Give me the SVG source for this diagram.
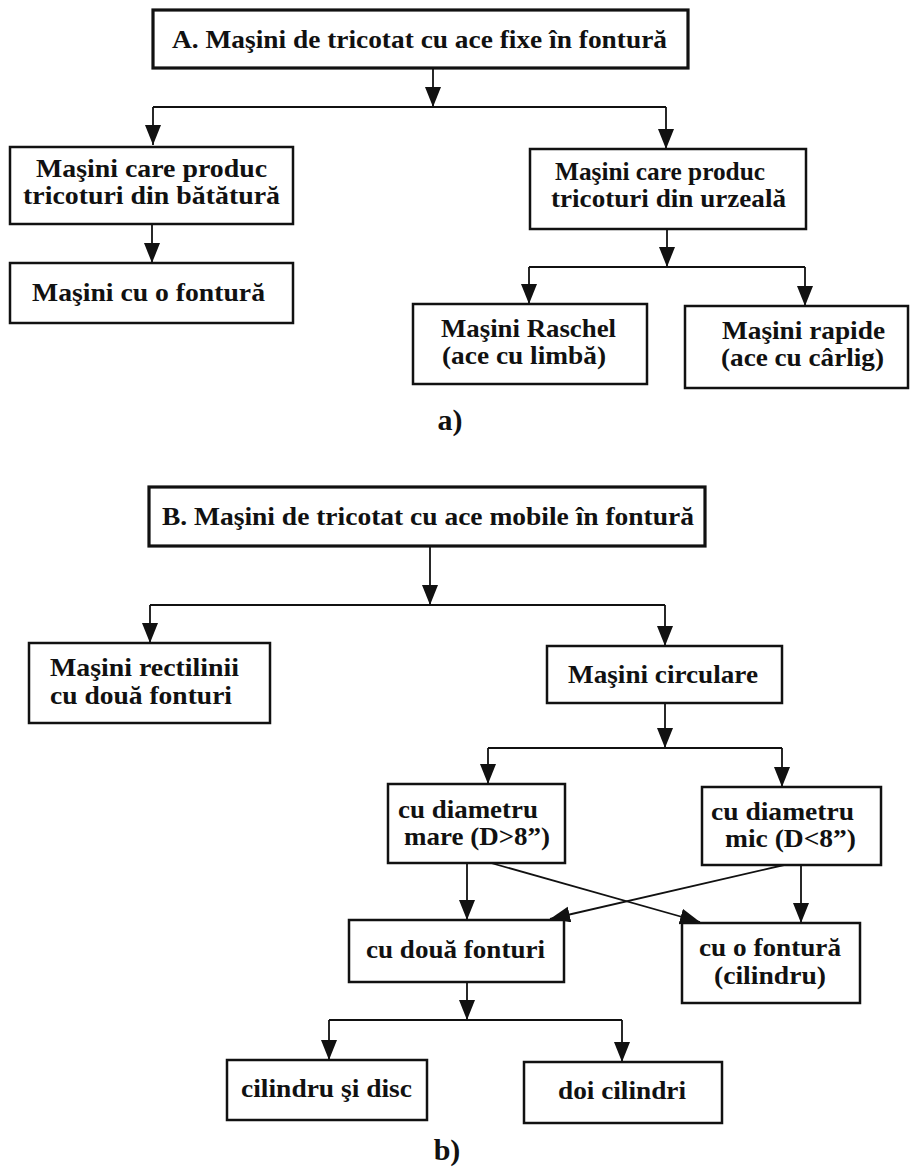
<svg xmlns="http://www.w3.org/2000/svg" width="914" height="1167" viewBox="0 0 914 1167">
<defs>
<marker id="ah" markerUnits="userSpaceOnUse" markerWidth="22" markerHeight="18" refX="20" refY="8" orient="auto">
<path d="M0,0 L20,8 L0,16 z" fill="#111"/>
</marker>
<style>
rect{fill:#fff;stroke:#111;stroke-width:2.5}
rect.main{stroke-width:3.2}
text{font-family:"Liberation Serif","Times New Roman",serif;font-weight:bold;font-size:25px;fill:#111}
.c path{fill:none;stroke:#111;stroke-width:1.8}
.c path.a{marker-end:url(#ah)}
</style>
</defs>
<rect x="0" y="0" width="914" height="1167" style="fill:#fff;stroke:none"/>
<g class="c" id="connectors">
<path class="a" d="M433,69 V107"/>
<path d="M153,107 H666"/>
<path class="a" d="M153,107 V145"/>
<path class="a" d="M666,107 V149"/>
<path class="a" d="M152,224 V263"/>
<path class="a" d="M667,229 V267"/>
<path d="M529,267 H805"/>
<path class="a" d="M529,267 V304"/>
<path class="a" d="M805,267 V306"/>
<path class="a" d="M430,546 V605"/>
<path d="M150,605 H665"/>
<path class="a" d="M150,605 V643"/>
<path class="a" d="M665,605 V646"/>
<path class="a" d="M665,703 V748"/>
<path d="M488,748 H782"/>
<path class="a" d="M488,748 V784"/>
<path class="a" d="M782,748 V787"/>
<path class="a" d="M467,863 V920"/>
<path class="a" d="M801,865 V923"/>
<path class="a" d="M491,863 L700,922"/>
<path class="a" d="M784,865 L550,919"/>
<path class="a" d="M467,982 V1020"/>
<path d="M329,1020 H622"/>
<path class="a" d="M329,1020 V1060"/>
<path class="a" d="M622,1020 V1062"/>
</g>
<g id="nA">
<rect class="main" x="153" y="10" width="535" height="58"/>
<text x="172" y="48" textLength="495" lengthAdjust="spacingAndGlyphs">A. Maşini de tricotat cu ace fixe în fontură</text>
</g>
<g id="nBatatura">
<rect x="10" y="147" width="283" height="77"/>
<text x="36" y="177" textLength="231" lengthAdjust="spacingAndGlyphs">Maşini care produc</text>
<text x="23" y="204" textLength="257" lengthAdjust="spacingAndGlyphs">tricoturi din bătătură</text>
</g>
<g id="nOFonturaA">
<rect x="10" y="263" width="283" height="60"/>
<text x="32" y="301" textLength="233" lengthAdjust="spacingAndGlyphs">Maşini cu o fontură</text>
</g>
<g id="nUrzeala">
<rect x="530" y="149" width="276" height="80"/>
<text x="555" y="180" textLength="210" lengthAdjust="spacingAndGlyphs">Maşini care produc</text>
<text x="551" y="207" textLength="235" lengthAdjust="spacingAndGlyphs">tricoturi din urzeală</text>
</g>
<g id="nRaschel">
<rect x="413" y="304" width="234" height="80"/>
<text x="441" y="337" textLength="175" lengthAdjust="spacingAndGlyphs">Maşini Raschel</text>
<text x="442" y="364" textLength="164" lengthAdjust="spacingAndGlyphs">(ace cu limbă)</text>
</g>
<g id="nRapide">
<rect x="685" y="306" width="223" height="82"/>
<text x="722" y="339" textLength="163" lengthAdjust="spacingAndGlyphs">Maşini rapide</text>
<text x="721" y="366" textLength="163" lengthAdjust="spacingAndGlyphs">(ace cu cârlig)</text>
</g>
<text x="450" y="430" text-anchor="middle" style="font-size:30px">a)</text>
<g id="nB">
<rect class="main" x="149" y="487" width="556" height="59"/>
<text x="162" y="525" textLength="532" lengthAdjust="spacingAndGlyphs">B. Maşini de tricotat cu ace mobile în fontură</text>
</g>
<g id="nRectilinii">
<rect x="29" y="643" width="241" height="80"/>
<text x="50" y="676" textLength="189" lengthAdjust="spacingAndGlyphs">Maşini rectilinii</text>
<text x="50" y="704" textLength="182" lengthAdjust="spacingAndGlyphs">cu două fonturi</text>
</g>
<g id="nCirculare">
<rect x="547" y="646" width="235" height="57"/>
<text x="568" y="683" textLength="190" lengthAdjust="spacingAndGlyphs">Maşini circulare</text>
</g>
<g id="nMare">
<rect x="388" y="784" width="177" height="79"/>
<text x="398" y="818" textLength="140" lengthAdjust="spacingAndGlyphs">cu diametru</text>
<text x="404" y="845" textLength="146" lengthAdjust="spacingAndGlyphs">mare (D&gt;8”)</text>
</g>
<g id="nMic">
<rect x="702" y="787" width="179" height="78"/>
<text x="711" y="820" textLength="143" lengthAdjust="spacingAndGlyphs">cu diametru</text>
<text x="725" y="847" textLength="131" lengthAdjust="spacingAndGlyphs">mic (D&lt;8”)</text>
</g>
<g id="nDoua">
<rect x="349" y="920" width="215" height="62"/>
<text x="366" y="958" textLength="179" lengthAdjust="spacingAndGlyphs">cu două fonturi</text>
</g>
<g id="nOFonturaB">
<rect x="682" y="923" width="178" height="80"/>
<text x="699" y="956" textLength="142" lengthAdjust="spacingAndGlyphs">cu o fontură</text>
<text x="714" y="984" textLength="112" lengthAdjust="spacingAndGlyphs">(cilindru)</text>
</g>
<g id="nCilDisc">
<rect x="227" y="1060" width="200" height="60"/>
<text x="241" y="1097" textLength="171" lengthAdjust="spacingAndGlyphs">cilindru şi disc</text>
</g>
<g id="nDoiCil">
<rect x="524" y="1062" width="198" height="61"/>
<text x="558" y="1099" textLength="128" lengthAdjust="spacingAndGlyphs">doi cilindri</text>
</g>
<text x="447" y="1160" text-anchor="middle" style="font-size:30px">b)</text>
</svg>
